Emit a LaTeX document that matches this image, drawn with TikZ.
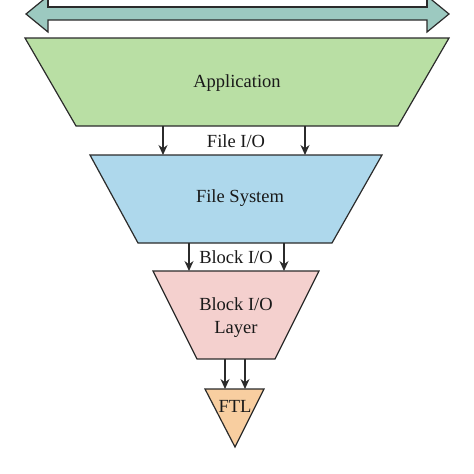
\documentclass[tikz,border=0pt]{standalone}
\usepackage{fontspec}
\setmainfont{Liberation Serif}
\usepackage{xcolor}
\definecolor{busteal}{HTML}{9CC9C0}
\definecolor{appgreen}{HTML}{B9DFA4}
\definecolor{fsblue}{HTML}{AED8EC}
\definecolor{blkpink}{HTML}{F4D0CE}
\definecolor{ftlorange}{HTML}{F8CEA0}
\definecolor{edge}{HTML}{2B2B2B}
\usetikzlibrary{arrows.meta}

\tikzset{
    layer/.style={draw=edge, line width=1.2pt, line join=miter},
    flow/.style={draw=edge, line width=1.2pt, -{Stealth[length=10pt, width=9pt]}},
    lbl/.style={font=\fontsize{18.5}{23}\selectfont, text=black!90, inner sep=0pt, align=center}
}

\begin{document}
\begin{tikzpicture}[x=1pt, y=-1pt]
            \useasboundingbox (0, 0) rectangle (474, 474);
            \clip (0, 0) rectangle (474, 474);

            % bus arrow on top
            \draw[layer, fill=busteal] (26, 14) -- (48, -4) -- (48, 7) -- (427, 7)
                -- (427, -4) -- (449, 14) -- (427, 32) -- (427, 20)
                -- (48, 20) -- (48, 32) -- cycle;
            \draw[layer, fill=white] (48, -20) rectangle (427, 7);

            % layers
            \draw[layer, fill=appgreen] (25, 38) -- (449, 38) -- (398, 126) -- (76, 126) -- cycle;
            \draw[layer, fill=fsblue] (90, 155) -- (382, 155) -- (332, 243) -- (138, 243) -- cycle;
            \draw[layer, fill=blkpink] (153, 271) -- (319, 271) -- (275, 359) -- (197, 359) -- cycle;
            \draw[layer, fill=ftlorange] (205, 389) -- (264, 389) -- (235, 447) -- cycle;

            \node[lbl] (app) at (237, 83) {Application};
            \node[lbl] (fs) at (240, 198) {File System};
            \node[lbl] (blk) at (236, 318) {Block I/O\\Layer};
            \node[lbl] (ftl) at (235, 406) {FTL};

            \node[lbl] (fio) at (236, 141) {File I/O};
            \node[lbl] (bio) at (236, 257) {Block I/O};

            % connectors
            \coordinate (appL) at (163, 126);
            \coordinate (appR) at (305, 126);
            \coordinate (fsL) at (163, 155);
            \coordinate (fsR) at (305, 155);
            \coordinate (fsL2) at (189, 243);
            \coordinate (fsR2) at (284, 243);
            \coordinate (blkL) at (189, 271);
            \coordinate (blkR) at (284, 271);
            \coordinate (blkL2) at (225, 359);
            \coordinate (blkR2) at (245, 359);
            \coordinate (ftlL) at (225, 389);
            \coordinate (ftlR) at (245, 389);

            \draw[flow] (appL) -- (fsL);
            \draw[flow] (appR) -- (fsR);
            \draw[flow] (fsL2) -- (blkL);
            \draw[flow] (fsR2) -- (blkR);
            \draw[flow] (blkL2) -- (ftlL);
            \draw[flow] (blkR2) -- (ftlR);
        \end{tikzpicture}
\end{document}
